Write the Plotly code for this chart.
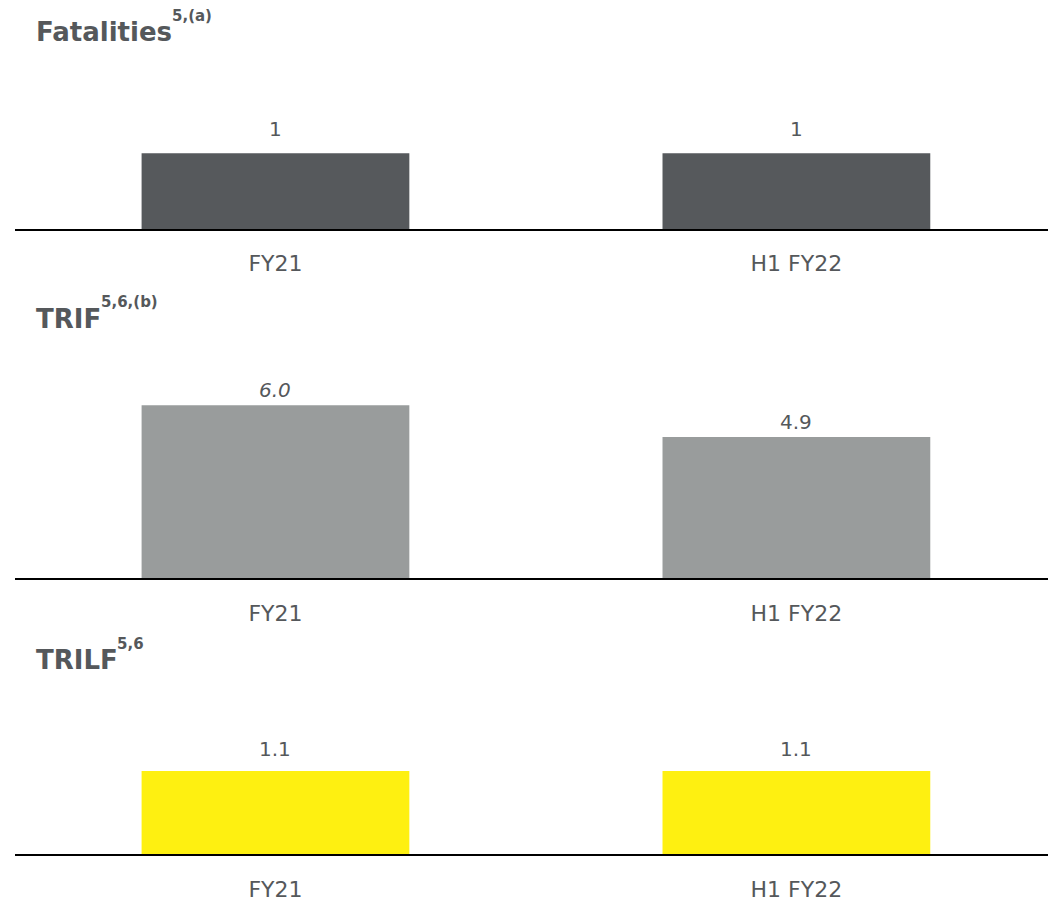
import plotly.graph_objects as go

# ---- data -------------------------------------------------------------
categories = ["FY21", "H1 FY22"]
fatalities = [1, 1]
trif = [6.0, 4.9]
trilf = [1.1, 1.1]

titles = ["Fatalities", "TRIF", "TRILF"]
title_notes = ["5,(a)", "5,6,(b)", "5,6"]
value_formats = ["{:.0f}", "{:.1f}", "{:.1f}"]
italic_labels = [[False, False], [True, False], [False, False]]
bar_colors = ["#56595c", "#999c9c", "#fef011"]

# ---- layout constants (pixels) -----------------------------------------
W, H = 1048, 902
AXIS_LEFT = 15
TITLE_X = 34
# base: axis baseline, top: top of plotting band, scale: px per unit,
# shift: value-label lift, title_y: title baseline,
# note_x / note_y: left edge and baseline of the raised footnote marks
panels = [
    dict(values=fatalities, base=230, top=80, scale=76, shift=24,
         title_y=42, note_x=170, note_y=23),
    dict(values=trif, base=581, top=381, scale=29, shift=15,
         title_y=330, note_x=99, note_y=310),
    dict(values=trilf, base=858, top=708, scale=76, shift=22,
         title_y=673, note_x=115, note_y=653),
]

TEXT = "#55585b"
FONT = "DejaVu Sans"
TITLE_SIZE = 26
NOTE_SIZE = 15

fig = go.Figure()
annotations = []

for i, p in enumerate(panels):
    ax = "" if i == 0 else str(i + 1)
    fig.add_trace(go.Bar(
        x=categories, y=p["values"],
        marker=dict(color=bar_colors[i], line=dict(width=0)),
        width=0.514,
        xaxis="x" + ax, yaxis="y" + ax,
        hoverinfo="skip", showlegend=False,
    ))
    dom = [1 - p["base"] / H, 1 - p["top"] / H]
    yrange = [0, (p["base"] - p["top"]) / p["scale"]]
    fig.update_layout(**{
        "xaxis" + ax: dict(
            domain=[AXIS_LEFT / W, 1], range=[-0.5, 1.483],
            anchor="y" + ax, type="category",
            showline=True, linecolor="#000000", linewidth=2,
            showgrid=False, zeroline=False, ticks="", ticklabelstandoff=14,
            tickfont=dict(family=FONT, size=22, color=TEXT),
            fixedrange=True,
        ),
        "yaxis" + ax: dict(
            domain=dom, range=yrange, visible=False,
            anchor="x" + ax, fixedrange=True,
        ),
    })
    # value labels above each bar
    for j, (c, v) in enumerate(zip(categories, p["values"])):
        txt = value_formats[i].format(v)
        if italic_labels[i][j]:
            txt = "<i>" + txt + "</i>"
        annotations.append(dict(
            x=c, y=v, xref="x" + ax, yref="y" + ax,
            text=txt, showarrow=False, yanchor="middle", yshift=p["shift"],
            font=dict(family=FONT, size=20, color=TEXT),
        ))
    # panel title
    annotations.append(dict(
        x=TITLE_X / W, y=1 - (p["title_y"] + 0.236 * TITLE_SIZE + 1) / H,
        xref="paper", yref="paper",
        xanchor="left", yanchor="bottom", showarrow=False,
        text="<b>" + titles[i] + "</b>",
        font=dict(family=FONT, size=TITLE_SIZE, color=TEXT),
    ))
    # footnote marks, raised to sit above the title's cap line
    annotations.append(dict(
        x=p["note_x"] / W, y=1 - (p["note_y"] + 0.236 * NOTE_SIZE + 1) / H,
        xref="paper", yref="paper",
        xanchor="left", yanchor="bottom", showarrow=False,
        text="<b>" + title_notes[i] + "</b>",
        font=dict(family=FONT, size=NOTE_SIZE, color=TEXT),
    ))

fig.update_layout(
    width=W, height=H,
    margin=dict(l=0, r=0, t=0, b=0),
    paper_bgcolor="white", plot_bgcolor="white",
    annotations=annotations,
)

fig.write_html("out.html")
